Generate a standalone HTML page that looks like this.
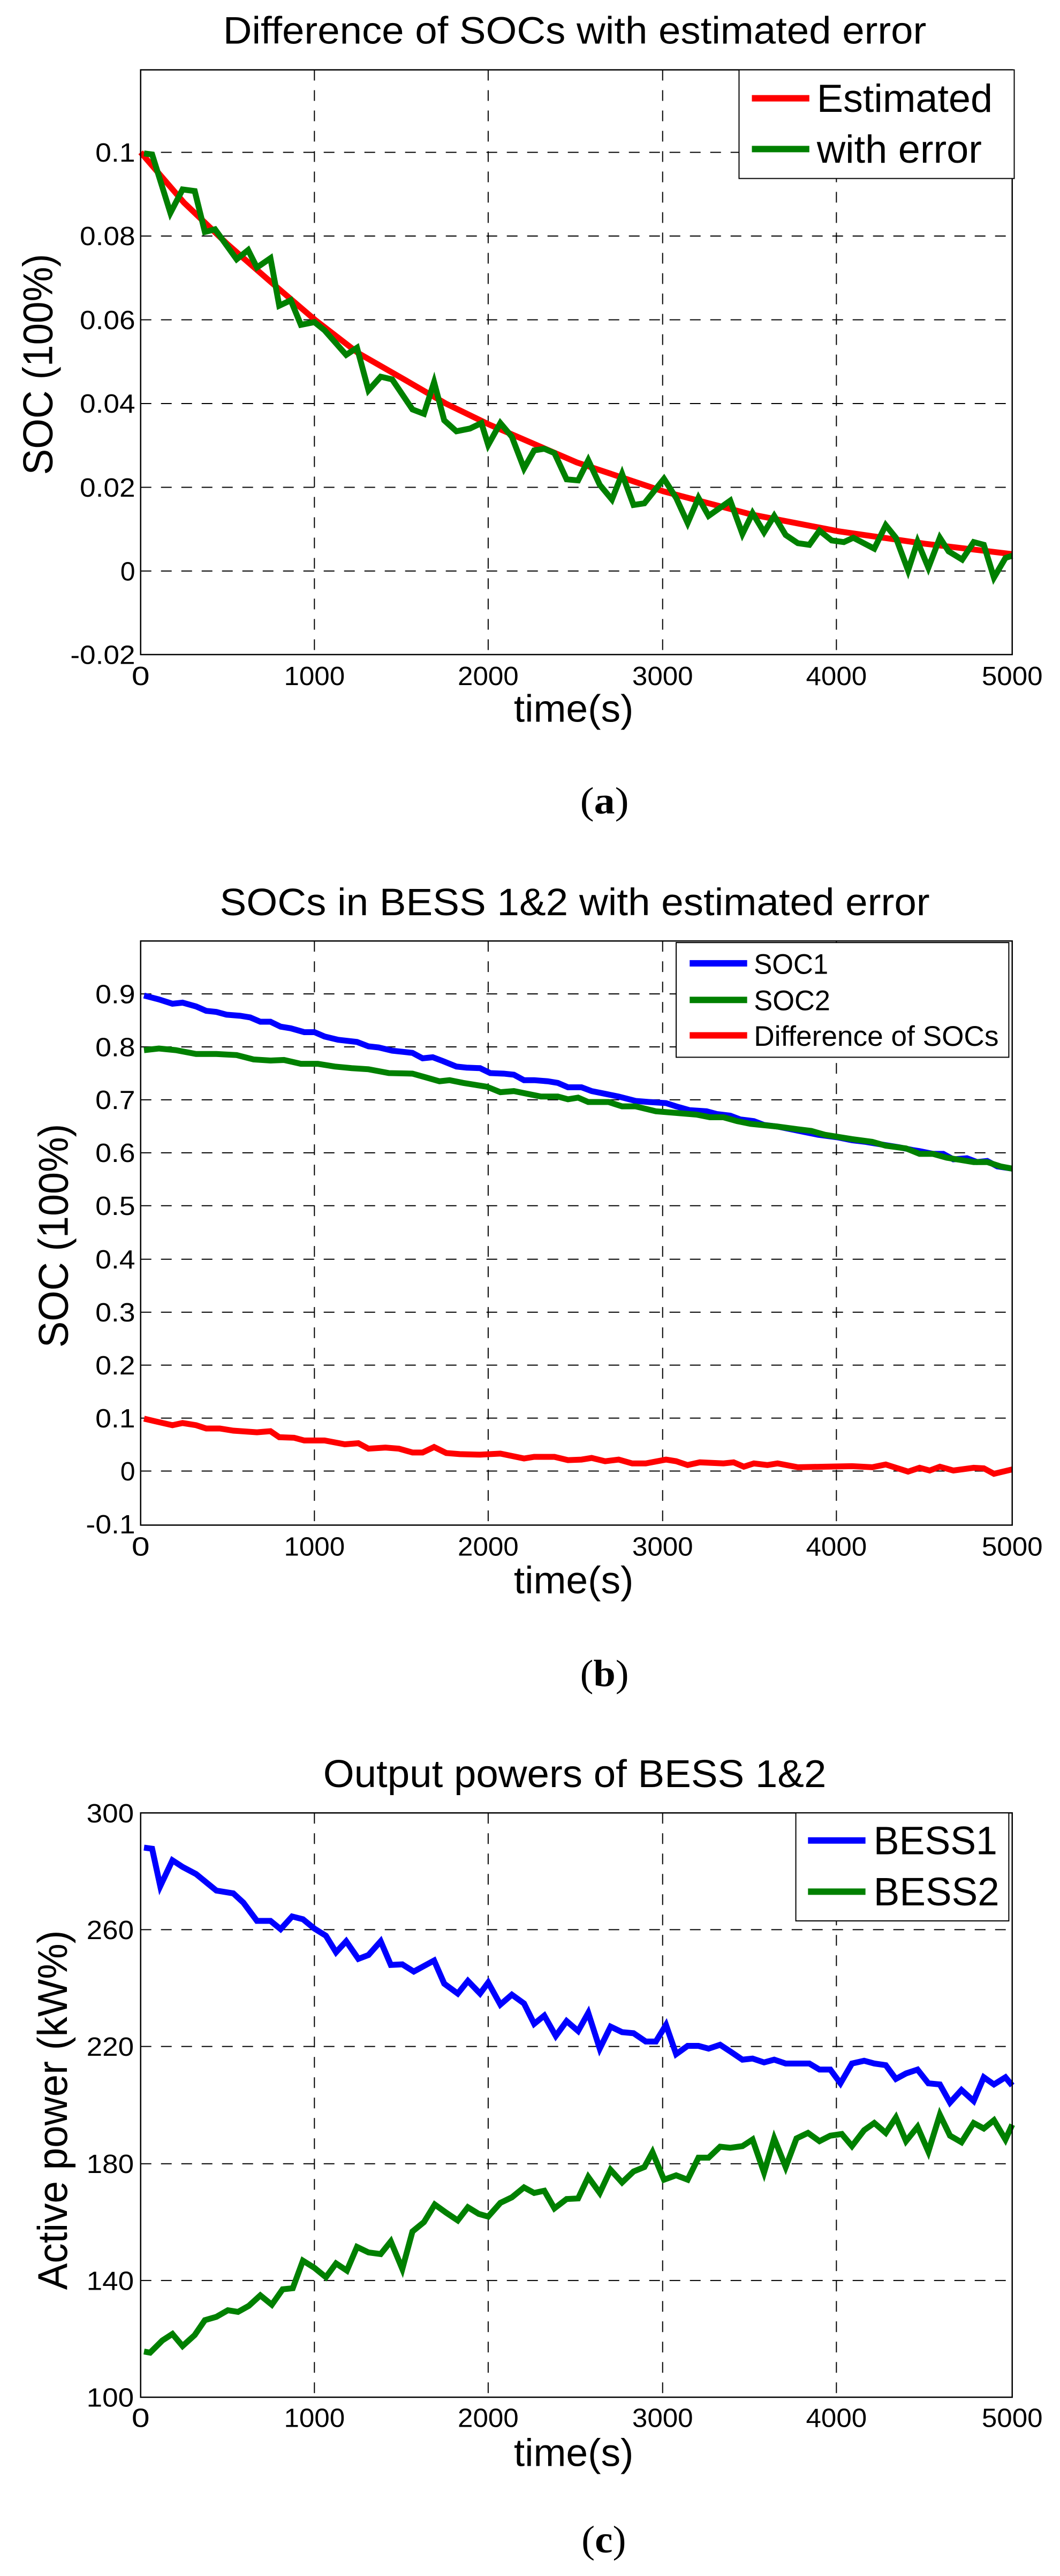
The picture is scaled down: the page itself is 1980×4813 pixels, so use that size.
<!DOCTYPE html>
<html><head><meta charset="utf-8"><style>
html,body{margin:0;padding:0;background:#fff;}
svg{display:block;}
text{font-family:"Liberation Sans",sans-serif;fill:#000;}
.g{stroke:#000;stroke-width:2;stroke-dasharray:20 18;fill:none;vector-effect:non-scaling-stroke;}
.ax{stroke:#000;stroke-width:2.5;fill:none;vector-effect:non-scaling-stroke;}
.lb{stroke:#000;stroke-width:2;fill:#fff;vector-effect:non-scaling-stroke;}
.d{fill:none;stroke-width:11;stroke-linejoin:miter;vector-effect:non-scaling-stroke;}
.t{font-size:48px;}
</style></head><body>
<svg width="1980" height="4813" viewBox="0 0 1980 4813" xmlns="http://www.w3.org/2000/svg">
<rect width="1980" height="4813" fill="#fff"/>

<!-- ========== (a) ========== -->
<g transform="scale(1.263,1.02)">
<text x="330" y="80" font-size="70" textLength="1040" lengthAdjust="spacingAndGlyphs">Difference of SOCs with estimated error</text>
<rect x="208" y="128" width="1289" height="1071" fill="#fff" stroke="none"/>
<line class="g" x1="465" y1="128" x2="465" y2="1199"/>
<line class="g" x1="722" y1="128" x2="722" y2="1199"/>
<line class="g" x1="980" y1="128" x2="980" y2="1199"/>
<line class="g" x1="1237" y1="128" x2="1237" y2="1199"/>
<line class="g" x1="208" y1="279" x2="1497" y2="279"/>
<line class="g" x1="208" y1="432.4" x2="1497" y2="432.4"/>
<line class="g" x1="208" y1="585.8" x2="1497" y2="585.8"/>
<line class="g" x1="208" y1="739.2" x2="1497" y2="739.2"/>
<line class="g" x1="208" y1="892.6" x2="1497" y2="892.6"/>
<line class="g" x1="208" y1="1046" x2="1497" y2="1046"/>
<polyline class="d" stroke="#ff0000" points="208,279 272,371 337,448 401,517 466,586 530,647 595,693 659,739 724,778 853,847 981,900 1110,942 1239,973 1368,996 1497,1015"/>
<polyline class="d" stroke="#008000" points="213,281 225,283 252,390 270,347 288,350 303,425 318,420 350,475 367,458 380,490 400,473 413,560 430,550 445,595 465,590 480,605 512,650 528,637 545,715 563,690 580,695 610,750 627,758 642,700 657,770 675,790 695,785 712,775 722,815 740,775 757,800 775,858 790,825 805,822 820,830 838,878 855,880 870,843 887,888 905,915 920,868 937,925 953,922 982,877 1000,912 1017,958 1033,912 1048,945 1080,917 1098,978 1113,940 1130,975 1145,945 1162,980 1180,995 1197,998 1212,972 1230,990 1248,993 1262,985 1293,1005 1310,962 1325,985 1343,1045 1357,992 1373,1040 1390,985 1403,1010 1423,1025 1440,993 1455,998 1470,1058 1487,1022 1497,1018"/>
<rect class="ax" x="208" y="128" width="1289" height="1071"/>
<rect class="lb" x="1093" y="128" width="407" height="199"/>
<line x1="1112" y1="180" x2="1197" y2="180" stroke="#ff0000" stroke-width="12" vector-effect="non-scaling-stroke"/>
<line x1="1112" y1="273" x2="1197" y2="273" stroke="#008000" stroke-width="12" vector-effect="non-scaling-stroke"/>
<text x="1208" y="205" font-size="72" textLength="260" lengthAdjust="spacingAndGlyphs">Estimated</text>
<text x="1208" y="298" font-size="72" textLength="244" lengthAdjust="spacingAndGlyphs">with error</text>
<g class="t" text-anchor="end">
<text x="200" y="296" textLength="59" lengthAdjust="spacingAndGlyphs">0.1</text>
<text x="200" y="449" textLength="82" lengthAdjust="spacingAndGlyphs">0.08</text>
<text x="200" y="603" textLength="82" lengthAdjust="spacingAndGlyphs">0.06</text>
<text x="200" y="756" textLength="82" lengthAdjust="spacingAndGlyphs">0.04</text>
<text x="200" y="910" textLength="82" lengthAdjust="spacingAndGlyphs">0.02</text>
<text x="200" y="1063" textLength="22" lengthAdjust="spacingAndGlyphs">0</text>
<text x="200" y="1216" textLength="96" lengthAdjust="spacingAndGlyphs">-0.02</text>
</g>
<g class="t" text-anchor="middle">
<text x="208" y="1255">0</text>
<text x="465" y="1255" textLength="90" lengthAdjust="spacingAndGlyphs">1000</text>
<text x="722" y="1255" textLength="90" lengthAdjust="spacingAndGlyphs">2000</text>
<text x="980" y="1255" textLength="90" lengthAdjust="spacingAndGlyphs">3000</text>
<text x="1237" y="1255" textLength="90" lengthAdjust="spacingAndGlyphs">4000</text>
<text x="1497" y="1255" textLength="90" lengthAdjust="spacingAndGlyphs">5000</text>
</g>
<text x="760" y="1322" font-size="70" textLength="177" lengthAdjust="spacingAndGlyphs">time(s)</text>
<text transform="translate(77,870) rotate(-90)" font-size="62" textLength="405" lengthAdjust="spacingAndGlyphs">SOC (100%)</text>
<text x="858" y="1490" font-size="70" textLength="72" lengthAdjust="spacingAndGlyphs" style="font-family:'Liberation Serif',serif">(<tspan font-weight="bold">a</tspan>)</text>
</g>

<!-- ========== (b) ========== -->
<g transform="translate(0,1600) scale(1.263,1.02)">
<text x="325" y="108" font-size="70" textLength="1050" lengthAdjust="spacingAndGlyphs">SOCs in BESS 1&amp;2 with estimated error</text>
<line class="g" x1="465" y1="155" x2="465" y2="1225"/>
<line class="g" x1="722" y1="155" x2="722" y2="1225"/>
<line class="g" x1="980" y1="155" x2="980" y2="1225"/>
<line class="g" x1="1237" y1="155" x2="1237" y2="1225"/>
<line class="g" x1="208" y1="252" x2="1497" y2="252"/>
<line class="g" x1="208" y1="349" x2="1497" y2="349"/>
<line class="g" x1="208" y1="446" x2="1497" y2="446"/>
<line class="g" x1="208" y1="543" x2="1497" y2="543"/>
<line class="g" x1="208" y1="640" x2="1497" y2="640"/>
<line class="g" x1="208" y1="738" x2="1497" y2="738"/>
<line class="g" x1="208" y1="835" x2="1497" y2="835"/>
<line class="g" x1="208" y1="932" x2="1497" y2="932"/>
<line class="g" x1="208" y1="1029" x2="1497" y2="1029"/>
<line class="g" x1="208" y1="1126" x2="1497" y2="1126"/>
<polyline class="d" stroke="#0000ff" points="213,255 235,262 255,270 270,268 290,275 305,283 320,285 335,290 355,292 370,295 385,303 400,303 415,312 430,315 450,322 465,322 480,330 500,336 528,340 545,348 560,350 580,356 610,360 625,370 640,368 655,375 675,385 690,387 710,388 725,397 745,398 760,400 775,410 790,410 810,412 825,415 840,423 860,423 875,430 895,435 915,440 940,448 960,450 985,452 1000,458 1020,465 1045,467 1060,472 1080,475 1095,482 1115,485 1130,492 1150,495 1170,500 1190,505 1210,510 1240,515 1260,520 1280,523 1300,527 1330,533 1350,538 1360,540 1380,545 1395,545 1410,555 1430,553 1445,560 1460,558 1475,568 1497,572"/>
<polyline class="d" stroke="#008000" points="213,355 235,352 260,355 290,362 320,362 350,364 375,372 400,374 420,373 445,380 470,380 495,385 520,388 545,390 575,397 610,398 630,405 650,412 665,410 685,415 720,422 740,432 760,430 780,435 800,440 825,440 840,445 855,442 870,450 900,450 920,458 940,458 970,467 1000,470 1030,473 1050,478 1070,478 1090,485 1110,490 1150,495 1180,500 1200,503 1220,510 1260,518 1290,523 1310,530 1340,535 1360,545 1380,545 1400,552 1420,556 1440,560 1460,560 1480,568 1497,572"/>
<polyline class="d" stroke="#ff0000" points="213,1030 230,1035 255,1042 270,1038 290,1042 305,1048 325,1048 345,1052 380,1055 400,1053 413,1064 435,1065 450,1070 480,1070 510,1077 530,1075 545,1085 570,1083 590,1085 610,1092 625,1092 642,1082 660,1093 680,1095 710,1096 740,1094 775,1103 790,1100 820,1100 840,1106 860,1105 875,1102 895,1108 915,1105 935,1112 955,1112 985,1105 1000,1108 1017,1115 1035,1110 1070,1112 1085,1110 1100,1118 1115,1112 1135,1115 1150,1112 1180,1119 1220,1118 1260,1117 1290,1119 1310,1114 1343,1127 1360,1120 1375,1125 1390,1118 1410,1125 1440,1120 1455,1121 1470,1131 1497,1123"/>
<rect class="ax" x="208" y="155" width="1289" height="1070"/>
<rect class="lb" x="1000" y="158" width="492" height="210"/>
<line x1="1020" y1="196" x2="1105" y2="196" stroke="#0000ff" stroke-width="12" vector-effect="non-scaling-stroke"/>
<line x1="1020" y1="263" x2="1105" y2="263" stroke="#008000" stroke-width="12" vector-effect="non-scaling-stroke"/>
<line x1="1020" y1="328" x2="1105" y2="328" stroke="#ff0000" stroke-width="12" vector-effect="non-scaling-stroke"/>
<text x="1115" y="215" font-size="52" textLength="110" lengthAdjust="spacingAndGlyphs">SOC1</text>
<text x="1115" y="282" font-size="52" textLength="113" lengthAdjust="spacingAndGlyphs">SOC2</text>
<text x="1115" y="347" font-size="52" textLength="362" lengthAdjust="spacingAndGlyphs">Difference of SOCs</text>
<g class="t" text-anchor="end">
<text x="200" y="269" textLength="59" lengthAdjust="spacingAndGlyphs">0.9</text>
<text x="200" y="366" textLength="59" lengthAdjust="spacingAndGlyphs">0.8</text>
<text x="200" y="463" textLength="59" lengthAdjust="spacingAndGlyphs">0.7</text>
<text x="200" y="560" textLength="59" lengthAdjust="spacingAndGlyphs">0.6</text>
<text x="200" y="657" textLength="59" lengthAdjust="spacingAndGlyphs">0.5</text>
<text x="200" y="755" textLength="59" lengthAdjust="spacingAndGlyphs">0.4</text>
<text x="200" y="852" textLength="59" lengthAdjust="spacingAndGlyphs">0.3</text>
<text x="200" y="949" textLength="59" lengthAdjust="spacingAndGlyphs">0.2</text>
<text x="200" y="1046" textLength="59" lengthAdjust="spacingAndGlyphs">0.1</text>
<text x="200" y="1143" textLength="22" lengthAdjust="spacingAndGlyphs">0</text>
<text x="200" y="1240" textLength="73" lengthAdjust="spacingAndGlyphs">-0.1</text>
</g>
<g class="t" text-anchor="middle">
<text x="208" y="1281">0</text>
<text x="465" y="1281" textLength="90" lengthAdjust="spacingAndGlyphs">1000</text>
<text x="722" y="1281" textLength="90" lengthAdjust="spacingAndGlyphs">2000</text>
<text x="980" y="1281" textLength="90" lengthAdjust="spacingAndGlyphs">3000</text>
<text x="1237" y="1281" textLength="90" lengthAdjust="spacingAndGlyphs">4000</text>
<text x="1497" y="1281" textLength="90" lengthAdjust="spacingAndGlyphs">5000</text>
</g>
<text x="760" y="1350" font-size="70" textLength="177" lengthAdjust="spacingAndGlyphs">time(s)</text>
<text transform="translate(100,900) rotate(-90)" font-size="62" textLength="410" lengthAdjust="spacingAndGlyphs">SOC (100%)</text>
<text x="858" y="1520" font-size="70" textLength="72" lengthAdjust="spacingAndGlyphs" style="font-family:'Liberation Serif',serif">(<tspan font-weight="bold">b</tspan>)</text>
</g>

<!-- ========== (c) ========== -->
<g transform="translate(0,3200) scale(1.263,1.029)">
<text x="478" y="135" font-size="70" textLength="744" lengthAdjust="spacingAndGlyphs">Output powers of BESS 1&amp;2</text>
<line class="g" x1="465" y1="182" x2="465" y2="1243"/>
<line class="g" x1="722" y1="182" x2="722" y2="1243"/>
<line class="g" x1="980" y1="182" x2="980" y2="1243"/>
<line class="g" x1="1237" y1="182" x2="1237" y2="1243"/>
<line class="g" x1="208" y1="394" x2="1497" y2="394"/>
<line class="g" x1="208" y1="606" x2="1497" y2="606"/>
<line class="g" x1="208" y1="819" x2="1497" y2="819"/>
<line class="g" x1="208" y1="1031" x2="1497" y2="1031"/>
<polyline class="d" stroke="#0000ff" points="213,245 225,247 237,315 255,268 270,280 290,293 320,323 345,328 360,345 380,378 400,378 415,393 432,370 448,375 465,392 482,405 497,435 512,415 530,447 545,440 563,415 578,458 595,457 612,470 627,460 642,450 657,492 677,510 692,487 710,510 722,490 740,530 757,512 775,528 790,565 805,550 822,587 838,560 855,578 870,545 887,610 903,570 920,580 937,582 955,597 970,597 985,567 1000,620 1017,605 1033,605 1048,610 1065,603 1080,615 1098,630 1113,628 1130,635 1145,630 1162,637 1180,637 1197,637 1212,648 1228,648 1243,673 1260,637 1278,632 1293,637 1310,640 1325,665 1340,655 1357,648 1373,673 1390,675 1405,708 1422,685 1440,705 1455,662 1470,675 1487,662 1497,677"/>
<polyline class="d" stroke="#008000" points="213,1160 222,1162 240,1140 255,1128 270,1150 288,1130 303,1103 320,1097 337,1085 352,1088 368,1077 385,1058 402,1075 418,1047 433,1045 448,995 465,1008 482,1025 497,1000 513,1013 528,970 545,980 563,983 578,960 595,1010 610,942 627,925 643,893 660,908 677,922 692,898 708,910 722,915 740,890 757,880 775,862 790,872 805,868 820,900 838,883 855,882 870,843 887,872 903,830 920,853 937,833 953,825 965,798 982,848 1000,840 1017,848 1033,808 1048,808 1065,788 1080,790 1098,787 1113,775 1130,835 1145,773 1162,825 1178,773 1195,763 1212,778 1228,768 1245,765 1260,787 1278,758 1293,745 1310,763 1325,735 1340,778 1357,752 1373,797 1390,730 1405,768 1422,780 1440,745 1455,755 1470,740 1487,775 1497,748"/>
<rect class="ax" x="208" y="182" width="1289" height="1061"/>
<rect class="lb" x="1177" y="182" width="315" height="196"/>
<line x1="1195" y1="232" x2="1280" y2="232" stroke="#0000ff" stroke-width="12" vector-effect="non-scaling-stroke"/>
<line x1="1195" y1="325" x2="1280" y2="325" stroke="#008000" stroke-width="12" vector-effect="non-scaling-stroke"/>
<text x="1292" y="257" font-size="72" textLength="183" lengthAdjust="spacingAndGlyphs">BESS1</text>
<text x="1292" y="350" font-size="72" textLength="186" lengthAdjust="spacingAndGlyphs">BESS2</text>
<g class="t" text-anchor="end">
<text x="198" y="199" textLength="70" lengthAdjust="spacingAndGlyphs">300</text>
<text x="198" y="411" textLength="70" lengthAdjust="spacingAndGlyphs">260</text>
<text x="198" y="623" textLength="70" lengthAdjust="spacingAndGlyphs">220</text>
<text x="198" y="836" textLength="70" lengthAdjust="spacingAndGlyphs">180</text>
<text x="198" y="1048" textLength="70" lengthAdjust="spacingAndGlyphs">140</text>
<text x="198" y="1260" textLength="70" lengthAdjust="spacingAndGlyphs">100</text>
</g>
<g class="t" text-anchor="middle">
<text x="208" y="1297">0</text>
<text x="465" y="1297" textLength="90" lengthAdjust="spacingAndGlyphs">1000</text>
<text x="722" y="1297" textLength="90" lengthAdjust="spacingAndGlyphs">2000</text>
<text x="980" y="1297" textLength="90" lengthAdjust="spacingAndGlyphs">3000</text>
<text x="1237" y="1297" textLength="90" lengthAdjust="spacingAndGlyphs">4000</text>
<text x="1497" y="1297" textLength="90" lengthAdjust="spacingAndGlyphs">5000</text>
</g>
<text x="760" y="1368" font-size="70" textLength="177" lengthAdjust="spacingAndGlyphs">time(s)</text>
<text transform="translate(99,1048) rotate(-90)" font-size="62" textLength="653" lengthAdjust="spacingAndGlyphs">Active power (kW%)</text>
<text x="860" y="1525" font-size="70" textLength="66" lengthAdjust="spacingAndGlyphs" style="font-family:'Liberation Serif',serif">(<tspan font-weight="bold">c</tspan>)</text>
</g>
</svg>
</body></html>
